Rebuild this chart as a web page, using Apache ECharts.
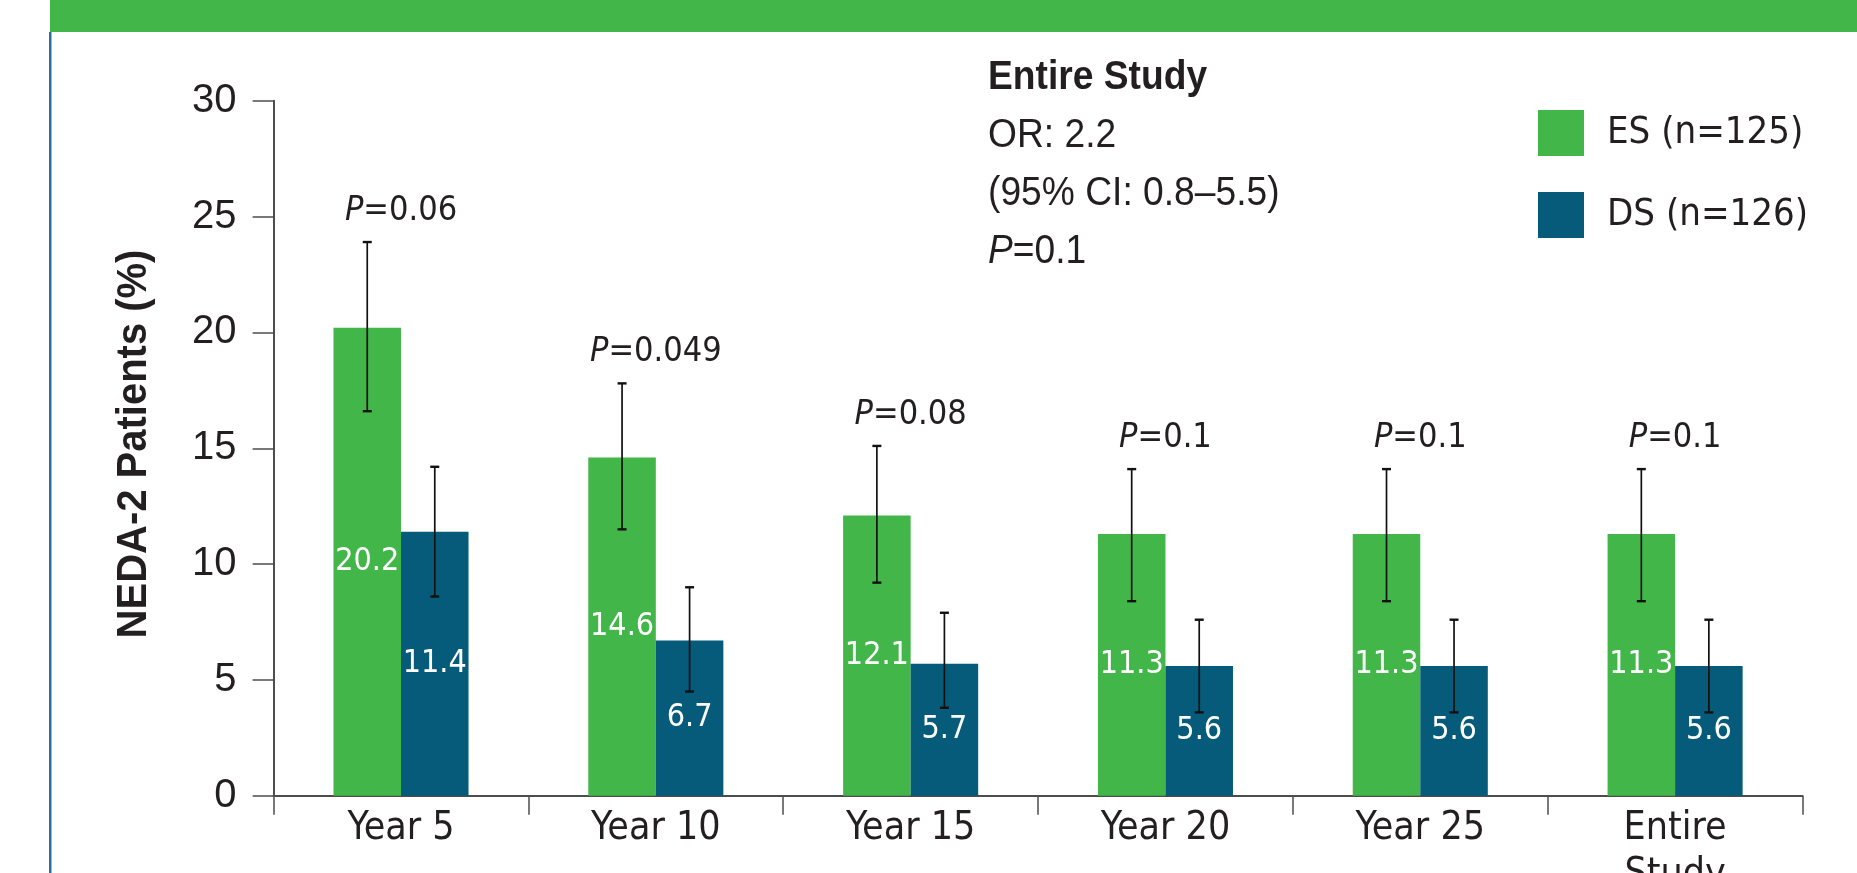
<!DOCTYPE html>
<html>
<head>
<meta charset="utf-8">
<script src="https://cdn.jsdelivr.net/npm/echarts@6/dist/echarts.min.js"></script>
<style>
  html, body { margin: 0; padding: 0; background: #ffffff; }
  #chart { width: 1857px; height: 873px; }
</style>
</head>
<body>
<div id="chart"></div>
<script>
// NEDA-2 patients by time point, ES vs DS, with 95% CI whiskers
const categories = ['Year 5', 'Year 10', 'Year 15', 'Year 20', 'Year 25', 'Entire\nStudy'];
const esValues = [20.2, 14.6, 12.1, 11.3, 11.3, 11.3];
const dsValues = [11.4, 6.7, 5.7, 5.6, 5.6, 5.6];
const esLow  = [16.6, 11.5, 9.2, 8.4, 8.4, 8.4];
const esHigh = [23.9, 17.8, 15.1, 14.1, 14.1, 14.1];
const dsLow  = [8.6, 4.5, 3.8, 3.6, 3.6, 3.6];
const dsHigh = [14.2, 9.0, 7.9, 7.6, 7.6, 7.6];
const pValues = ['0.06', '0.049', '0.08', '0.1', '0.1', '0.1'];
const seriesNames = ['ES (n=125)', 'DS (n=126)'];
const summaryLines = ['Entire Study', 'OR: 2.2', '(95% CI: 0.8\u20135.5)', '0.1'];
const yMin = 0, yMax = 30, yStep = 5;

const GREEN = '#42b649';
const BLUE = '#055b79';
const INK = '#231f20';
const NARROW = '"DejaVu Sans Condensed", "Liberation Sans Narrow", sans-serif';
const WIDE = '"Liberation Sans", Arial, sans-serif';
const CAT_GAP = 0.47;

const chart = echarts.init(document.getElementById('chart'), null, { renderer: 'canvas' });

// whisker for one bar of the pair: side = -1 (left bar) or +1 (right bar)
function whiskerRenderer(side) {
  return function (params, api) {
    const cat = api.value(0);
    const lo = api.value(1);
    const hi = api.value(2);
    const band = api.size([1, 0])[0];
    const barW = band * (1 - CAT_GAP) / 2;
    const x = api.coord([cat, 0])[0] + side * barW / 2;
    const yLo = api.coord([cat, lo])[1];
    const yHi = api.coord([cat, hi])[1];
    const cap = 4.5;
    const capStyle = { stroke: '#111111', lineWidth: 2.4 };
    return {
      type: 'group',
      children: [
        { type: 'line', shape: { x1: x, y1: yHi, x2: x, y2: yLo }, style: { stroke: '#111111', lineWidth: 1.7 } },
        { type: 'line', shape: { x1: x - cap, y1: yHi, x2: x + cap, y2: yHi }, style: capStyle },
        { type: 'line', shape: { x1: x - cap, y1: yLo, x2: x + cap, y2: yLo }, style: capStyle }
      ]
    };
  };
}

function summaryText(y, text, bold) {
  return {
    type: 'text', x: 988, y: y, scaleX: 0.93,
    style: {
      text: text, font: (bold ? 'bold ' : '') + '40px ' + WIDE, fill: INK, verticalAlign: 'middle',
      rich: { it: { fontStyle: 'italic', fontFamily: WIDE, fontSize: 40, fill: INK, color: INK } }
    }
  };
}

const option = {
  animation: false,
  backgroundColor: '#ffffff',
  grid: { left: 273.6, right: 54.5, top: 100.7, bottom: 77.2, containLabel: false, outerBoundsMode: 'none' },
  legend: {
    data: seriesNames,
    orient: 'vertical',
    left: 1538,
    top: 110,
    padding: 0,
    itemWidth: 46,
    itemHeight: 46,
    itemGap: 36,
    icon: 'rect',
    selectedMode: false,
    textStyle: { fontFamily: NARROW, fontSize: 38, lineHeight: 46, color: INK, padding: [0, 0, 0, 18] }
  },
  xAxis: {
    type: 'category',
    data: categories,
    axisLine: { lineStyle: { color: '#4d4d4f', width: 2 } },
    axisTick: { show: true, length: 19, lineStyle: { color: '#4d4d4f', width: 1.5 } },
    axisLabel: { fontFamily: NARROW, fontSize: 39, color: INK, margin: 10, lineHeight: 46, interval: 0 }
  },
  yAxis: {
    type: 'value',
    min: yMin,
    max: yMax,
    interval: yStep,
    splitLine: { show: false },
    axisLine: { show: true, lineStyle: { color: '#4d4d4f', width: 2 } },
    axisTick: { show: true, length: 21, lineStyle: { color: '#4d4d4f', width: 1.5 } },
    axisLabel: { fontFamily: WIDE, fontSize: 40, color: INK, margin: 37 }
  },
  series: [
    {
      name: seriesNames[0],
      type: 'bar',
      data: esValues,
      barGap: '0%',
      barCategoryGap: (CAT_GAP * 100) + '%',
      itemStyle: { color: GREEN },
      label: { show: true, position: 'inside', color: '#ffffff', fontFamily: NARROW, fontSize: 32 }
    },
    {
      name: seriesNames[1],
      type: 'bar',
      data: dsValues,
      itemStyle: { color: BLUE },
      label: { show: true, position: 'inside', color: '#ffffff', fontFamily: NARROW, fontSize: 32 }
    },
    {
      type: 'custom',
      name: 'es-ci',
      renderItem: whiskerRenderer(-1),
      data: categories.map((c, i) => [i, esLow[i], esHigh[i]]),
      z: 5
    },
    {
      type: 'custom',
      name: 'ds-ci',
      renderItem: whiskerRenderer(1),
      data: categories.map((c, i) => [i, dsLow[i], dsHigh[i]]),
      z: 5
    },
    {
      // P value above each pair
      type: 'custom',
      name: 'p-values',
      renderItem: function (params, api) {
        const cat = api.value(0);
        const pt = api.coord([cat, api.value(1)]);
        return {
          type: 'text',
          style: {
            x: pt[0],
            y: pt[1] - 31,
            text: '{it|P}=' + pValues[params.dataIndex],
            align: 'center',
            verticalAlign: 'middle',
            fill: INK,
            font: '34px ' + NARROW,
            rich: { it: { fontStyle: 'italic', fontFamily: NARROW, fontSize: 34, fill: INK, color: INK } }
          }
        };
      },
      data: categories.map((c, i) => [i, esHigh[i]]),
      z: 6
    }
  ],
  graphic: [
    // header band and left frame line
    { type: 'rect', left: 50, top: 0, shape: { width: 1807, height: 32 }, style: { fill: GREEN } },
    { type: 'rect', left: 49, top: 32, shape: { width: 2.5, height: 841 }, style: { fill: '#2f6e9e' } },
    // y axis title
    {
      type: 'text', x: 134, y: 444, rotation: Math.PI / 2, scaleX: 0.93,
      style: { text: 'NEDA-2 Patients (%)', font: 'bold 43px ' + WIDE, fill: INK, align: 'center', verticalAlign: 'middle' }
    },
    // summary block
    summaryText(78, summaryLines[0], true),
    summaryText(136, summaryLines[1], false),
    summaryText(194, summaryLines[2], false),
    summaryText(252, '{it|P}=' + summaryLines[3], false)
  ]
};

chart.setOption(option);
</script>
</body>
</html>
